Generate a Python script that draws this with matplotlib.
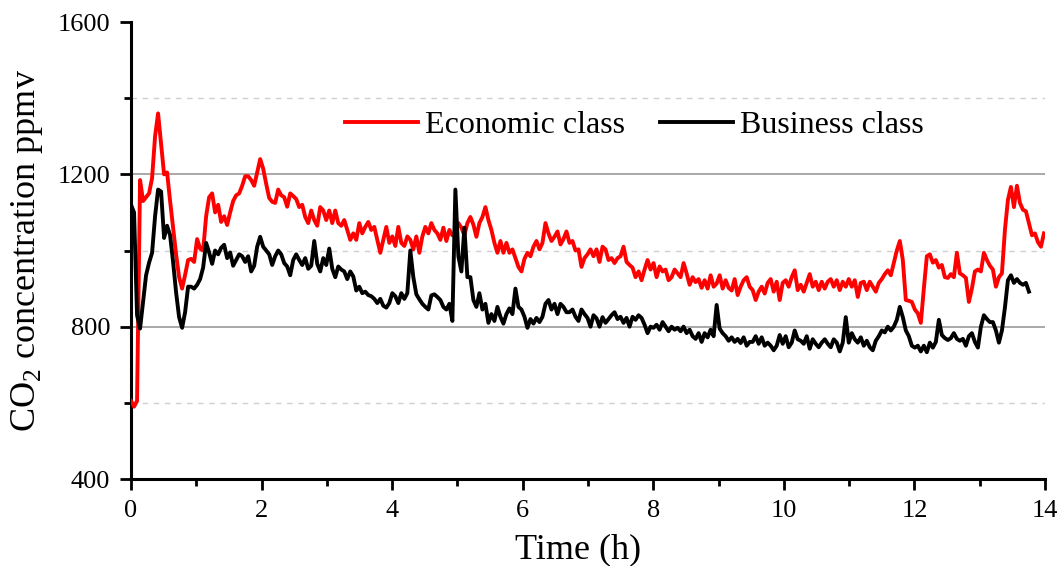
import numpy as np
import matplotlib
matplotlib.use("Agg")
import matplotlib.pyplot as plt

# CO2 readings, one sample every 2.76 min (0.046 h)
sample_h = 0.046

economic_ppmv = [
    605, 590, 605, 1185, 1130, 1140, 1150, 1190, 1300, 1360,
    1280, 1200, 1205, 1130, 1060, 990, 930, 900, 936, 975,
    978, 970, 1030, 1005, 1000, 1090, 1140, 1150, 1100, 1120,
    1075, 1090, 1067, 1100, 1130, 1145, 1150, 1170, 1195, 1195,
    1185, 1170, 1205, 1240, 1215, 1175, 1138, 1128, 1125, 1160,
    1145,
    1140, 1115, 1150, 1143, 1135, 1114, 1120, 1088, 1072, 1105,
    1080, 1065, 1114, 1105, 1080, 1105, 1072, 1105, 1072, 1065,
    1080, 1054, 1028, 1045, 1028, 1072, 1045, 1062, 1075, 1054,
    1062, 1028, 994, 1028, 1062, 1020, 1037, 1012, 1062, 1020,
    1012, 1037, 1028, 1003, 1037, 994, 1037, 1062, 1045, 1072,
    1054, 1045, 1028, 1060, 1025, 1054, 1040, 1045, 1072, 1060,
    1040, 1072, 1088, 1068, 1036, 1072, 1088, 1114, 1080, 1054,
    1020, 994, 1025, 994, 1020, 994, 1003, 980, 957, 945,
    978, 994, 985, 1010, 1025, 1003, 1020, 1072, 1045, 1025,
    1036, 1050, 1016, 1030, 1050, 1020, 1025, 1000, 1003, 957,
    980, 990, 1003, 985,
    1003, 970, 1010, 1003, 975, 980, 967, 980, 985, 1010,
    970, 962, 955, 930, 945, 922, 950, 975, 950, 967,
    930, 958, 945, 950, 922, 930, 950, 940, 930, 967,
    940, 910, 930, 917, 925, 902, 922, 900, 935, 905,
    913, 935, 900, 922, 902, 895, 925, 883, 905, 922,
    930, 905,
    896, 870, 892, 905, 887, 915, 925, 892, 918, 870,
    915, 922, 905, 930, 948, 896, 910, 892, 915, 938,
    905, 918, 896, 918, 900, 918, 925, 905, 922, 896,
    918, 905, 925, 905, 922, 878, 915, 918, 896, 918,
    905, 892, 915, 925, 938, 948, 935, 967, 1000, 1025,
    975, 870, 868, 865, 845, 835, 810, 900, 985, 990,
    968, 975, 955, 962, 930, 928, 938, 930, 994, 940,
    935, 928, 865, 900, 945, 950, 945, 994, 975, 960,
    950, 905, 930, 940, 1054, 1133, 1167, 1114, 1170, 1125,
    1107, 1103, 1072, 1040, 1045, 1022, 1010, 1045,
]

business_ppmv = [
    1120, 1100, 830, 795, 865, 935, 968, 994, 1090, 1160,
    1155, 1033, 1065, 1040, 970, 890, 825, 797, 838, 905,
    905, 900, 910, 925, 955, 1020, 995, 965, 1000, 990,
    1007, 1015, 980, 995, 960, 975, 990, 985, 970, 985,
    945, 960, 1010, 1036, 1010, 1000, 990, 962, 985, 1000,
    990,
    967, 958, 935, 975, 990, 975, 962, 980, 952, 960,
    1025, 965, 945, 980, 962, 1005, 952, 930, 958, 950,
    945, 925, 945, 932, 895, 905, 888, 892, 883, 880,
    873, 862, 873, 855, 850, 862, 888, 880, 862, 888,
    873, 888, 1000, 930, 885, 872, 860, 852, 845, 882,
    885, 878, 870, 852, 845, 860, 815, 1160, 985, 945,
    1060, 930, 930, 870, 852, 888, 845, 860, 810, 833,
    815, 852, 826, 808, 833, 848, 833, 900, 852, 845,
    826, 797, 820, 808, 823, 812, 826, 860, 870, 845,
    860, 833, 860, 852, 838, 838, 845, 826, 815, 845,
    833, 823, 800, 830,
    822, 800, 825, 810, 820, 830, 838, 820, 826, 810,
    823, 800, 826, 818, 830, 823, 805, 783, 800, 797,
    805, 792, 812, 800, 788, 800, 792, 797, 788, 800,
    783, 792, 775, 768, 783, 760, 783, 772, 792, 775,
    857, 795, 783, 775, 763, 772, 760, 768, 757, 772,
    750, 760,
    760, 775, 755, 772, 750, 758, 750, 738, 750, 778,
    755, 775, 746, 758, 790, 767, 763, 755, 775, 742,
    767, 755, 746, 758, 767, 755, 746, 767, 758, 735,
    758, 825, 758, 783, 767, 758, 772, 750, 763, 746,
    738, 763, 775, 790, 785, 800, 790, 800, 818, 852,
    825, 790, 775, 750, 745, 750, 735, 750, 733, 758,
    745, 760, 818, 778, 770, 765, 770, 783, 768, 763,
    768, 750, 775, 783, 760, 745, 800, 830, 820, 812,
    812, 790, 758, 790, 850, 922, 935, 915, 925, 915,
    910, 915, 892,
]

series_labels = ["Economic class", "Business class"]
series_colors = ["#ff0000", "#000000"]

x_major = [0, 2, 4, 6, 8, 10, 12, 14]
x_minor = [1, 3, 5, 7, 9, 11, 13]
y_major = [400, 800, 1200, 1600]
y_minor = [600, 1000, 1400]

plt.rcParams["font.family"] = ["Liberation Serif", "DejaVu Serif"]
plt.rcParams["mathtext.fontset"] = "custom"
plt.rcParams["mathtext.rm"] = "Liberation Serif"

fig = plt.figure(figsize=(10.62, 5.66), dpi=100)
ax = fig.add_axes([0.1234, 0.1537, 0.8606, 0.8074])

# reference lines: solid at major levels, dashed at minor levels
for y in [800, 1200]:
    ax.axhline(y, color="#a8a8a8", lw=1.4, zorder=1)
for y in y_minor:
    ax.axhline(y, color="#cfcfcf", lw=1.0, ls=(0, (4, 4)), zorder=1)

for vals, lab, col in zip([economic_ppmv, business_ppmv], series_labels, series_colors):
    t = np.arange(len(vals)) * sample_h
    ax.plot(t, vals, color=col, lw=2.8, label=lab, zorder=3)

ax.set_xlim(0, 14)
ax.set_ylim(400, 1600)
ax.set_xticks(x_major)
ax.set_xticks(x_minor, minor=True)
ax.set_yticks(y_major)
ax.set_yticks(y_minor, minor=True)

for s in ["top", "right"]:
    ax.spines[s].set_visible(False)
for s in ["left", "bottom"]:
    ax.spines[s].set_linewidth(2.2)

ax.tick_params(which="major", direction="out", length=8, width=2, labelsize=19, pad=7)
ax.tick_params(which="minor", direction="out", length=5, width=2)

ax.set_xlabel("Time (h)", fontsize=26)
ax.set_ylabel(r"CO$_\mathregular{2}$ concentration ppmv", fontsize=26)
ax.xaxis.set_label_coords(0.489, -0.118)
ax.yaxis.set_label_coords(-0.094, 0.5)

ax.legend(loc="center left", bbox_to_anchor=(0.234, 0.7746), ncol=2, frameon=False,
          fontsize=23, handlelength=2.28, handletextpad=0.22, columnspacing=1.1,
          borderpad=0, borderaxespad=0)

fig.savefig("out.png", dpi=100)
